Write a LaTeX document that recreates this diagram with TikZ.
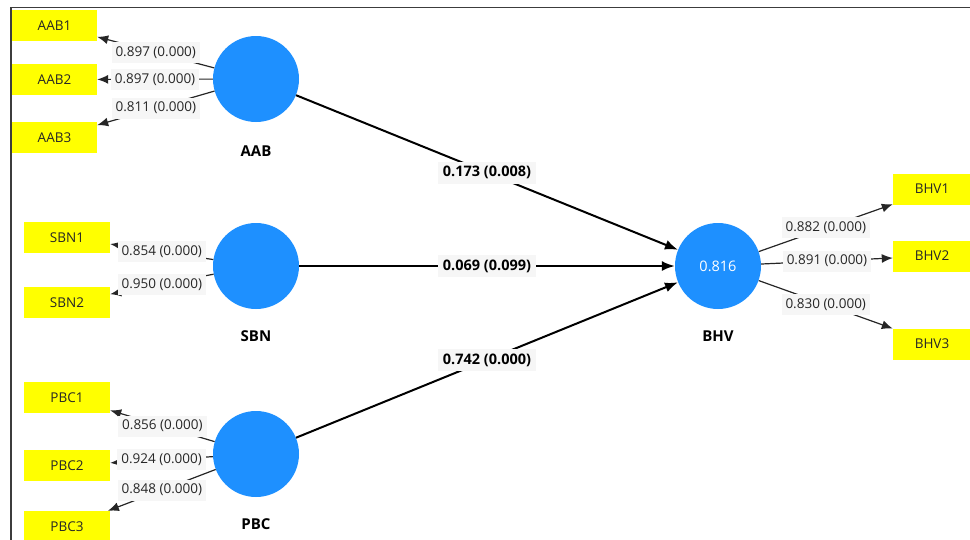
\documentclass[tikz,border=0pt]{standalone}
\usepackage{fontspec}
\setmainfont{Open Sans}
\usetikzlibrary{arrows.meta}
\definecolor{lvblue}{RGB}{30,144,255}
\definecolor{mvyellow}{RGB}{255,255,0}
\definecolor{lblgray}{RGB}{246,246,246}
\definecolor{framegray}{RGB}{60,60,60}
\begin{document}
\begin{tikzpicture}[x=1pt, y=-1pt,
  latent/.style={circle, fill=lvblue, minimum size=86pt, inner sep=0pt},
  indicator/.style={rectangle, fill=mvyellow, minimum width=86pt, minimum height=31pt,
    inner sep=0pt, text=black!85, font=\fontsize{13.5}{15}\selectfont},
  lvname/.style={font=\bfseries\fontsize{15}{17}\selectfont},
  loading/.style={draw=black!85, line width=1.2pt, -{Latex[length=11pt,width=9pt]}},
  structural/.style={draw=black, line width=2pt, -{Latex[length=13pt,width=10pt]}},
  lbl/.style={midway, fill=lblgray, inner xsep=4pt, inner ysep=0pt, minimum height=21pt,
    text=black!85, font=\fontsize{13.5}{15}\selectfont},
  plbl/.style={lbl, minimum height=22pt, inner xsep=5pt, text=black, font=\bfseries\fontsize{14.5}{16}\selectfont},
  framestyle/.style={draw=framegray, line width=1.5pt}
]
\clip (0,0) rectangle (970,539);

% outer frame
\coordinate (fbl) at (11,540);
\coordinate (ftl) at (11,7.5);
\coordinate (ftr) at (971,7.5);
\draw[framestyle] (fbl) -- (ftl) -- (ftr);

% latent variables
\node[latent] (AAB) at (256,79) {};
\node[latent] (SBN) at (256,266) {};
\node[latent] (PBC) at (256,454) {};
\node[latent, text=white, font=\fontsize{14.5}{16}\selectfont] (BHV) at (718,266) {0.816};

\node[lvname] (AABname) at (256,151) {AAB};
\node[lvname] (SBNname) at (256,336) {SBN};
\node[lvname] (PBCname) at (256,524) {PBC};
\node[lvname] (BHVname) at (718,336) {BHV};

% indicators
\node[indicator, minimum width=85pt] (AAB1) at (54.5,25.5) {AAB1};
\node[indicator, minimum width=85pt] (AAB2) at (54.5,79.5) {AAB2};
\node[indicator, minimum width=85pt] (AAB3) at (54.5,137.5) {AAB3};
\node[indicator] (SBN1) at (67,237.5) {SBN1};
\node[indicator] (SBN2) at (67,302.5) {SBN2};
\node[indicator] (PBC1) at (67,397.5) {PBC1};
\node[indicator] (PBC2) at (67,465.5) {PBC2};
\node[indicator] (PBC3) at (67,526.5) {PBC3};
\node[indicator] (BHV1) at (936,189) {\hspace*{-8pt}BHV1};
\node[indicator] (BHV2) at (936,256) {\hspace*{-8pt}BHV2};
\node[indicator] (BHV3) at (936,344) {\hspace*{-8pt}BHV3};

% outer loadings
\draw[loading] (AAB) -- node[lbl]{0.897 (0.000)} (AAB1);
\draw[loading] (AAB) -- node[lbl]{0.897 (0.000)} (AAB2);
\draw[loading] (AAB) -- node[lbl]{0.811 (0.000)} (AAB3);
\draw[loading] (SBN) -- node[lbl]{0.854 (0.000)} (SBN1);
\draw[loading] (SBN) -- node[lbl]{0.950 (0.000)} (SBN2);
\draw[loading] (PBC) -- node[lbl]{0.856 (0.000)} (PBC1);
\draw[loading] (PBC) -- node[lbl]{0.924 (0.000)} (PBC2);
\draw[loading] (PBC) -- node[lbl]{0.848 (0.000)} (PBC3);
\draw[loading] (BHV) -- node[lbl]{0.882 (0.000)} (BHV1);
\draw[loading] (BHV) -- node[lbl]{0.891 (0.000)} (BHV2);
\draw[loading] (BHV) -- node[lbl]{0.830 (0.000)} (BHV3);

% path coefficients
\draw[structural] (AAB) -- node[plbl]{0.173 (0.008)} (BHV);
\draw[structural] (SBN) -- node[plbl]{0.069 (0.099)} (BHV);
\draw[structural] (PBC) -- node[plbl]{0.742 (0.000)} (BHV);
\end{tikzpicture}
\end{document}
